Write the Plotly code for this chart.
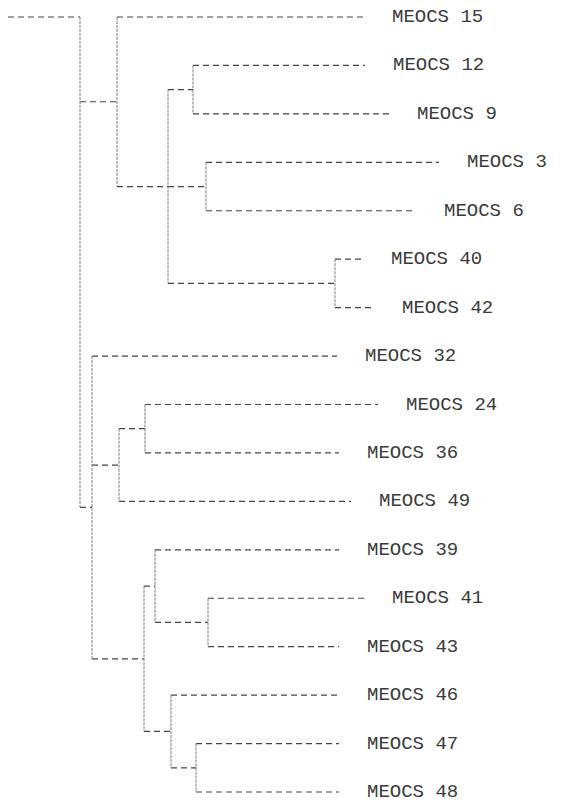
import plotly.graph_objects as go

# ---- data ----
leaf_labels = ["MEOCS 15", "MEOCS 12", "MEOCS 9", "MEOCS 3", "MEOCS 6",
               "MEOCS 40", "MEOCS 42", "MEOCS 32", "MEOCS 24", "MEOCS 36",
               "MEOCS 49", "MEOCS 39", "MEOCS 41", "MEOCS 43", "MEOCS 46",
               "MEOCS 47", "MEOCS 48"]
# right end of each leaf branch (distance units)
leaf_end = [364, 365, 389, 439, 416, 363, 374, 337, 378, 339,
            351, 339, 364, 339, 339, 339, 339]

# internal nodes: name, position (distance units), children
node_names = ["A", "B", "C", "D", "E", "F", "G", "H", "I", "J", "K", "L", "M", "ROOT"]
node_x = [193, 206, 335, 168, 117, 145, 119, 208, 155, 196, 171, 144, 92, 80]
node_children = [
    ["MEOCS 12", "MEOCS 9"],
    ["MEOCS 3", "MEOCS 6"],
    ["MEOCS 40", "MEOCS 42"],
    ["A", "B", "C"],
    ["MEOCS 15", "D"],
    ["MEOCS 24", "MEOCS 36"],
    ["F", "MEOCS 49"],
    ["MEOCS 41", "MEOCS 43"],
    ["MEOCS 39", "H"],
    ["MEOCS 47", "MEOCS 48"],
    ["MEOCS 46", "J"],
    ["I", "K"],
    ["MEOCS 32", "G", "L"],
    ["E", "M"],
]
root_stem_start = 8
root_stem_row = 0      # the printout draws the root stem on the first row

# ---- build geometry from the tree ----
node_pos = dict(zip(node_names, node_x))
node_kids = dict(zip(node_names, node_children))
leaf_idx = {lab: i for i, lab in enumerate(leaf_labels)}
parent = {}
for n, kids in node_kids.items():
    for k in kids:
        parent[k] = n

ycache = {}
def ypos(name):
    if name in leaf_idx:
        return float(leaf_idx[name])
    if name not in ycache:
        if name not in parent:
            ycache[name] = float(root_stem_row)
        else:
            kids = node_kids[name]
            ycache[name] = (ypos(kids[0]) + ypos(kids[-1])) / 2.0
    return ycache[name]

hx, hy, vx, vy = [], [], [], []
for lab, end in zip(leaf_labels, leaf_end):
    y = ypos(lab)
    hx += [node_pos[parent[lab]], end, None]
    hy += [y, y, None]
for n in node_names:
    y = ypos(n)
    start = node_pos[parent[n]] if n in parent else root_stem_start
    hx += [start, node_pos[n], None]
    hy += [y, y, None]
    ys = [ypos(k) for k in node_kids[n]] + [y]
    vx += [node_pos[n], node_pos[n], None]
    vy += [min(ys), max(ys), None]

fig = go.Figure()
fig.add_trace(go.Scatter(x=hx, y=hy, mode="lines", hoverinfo="skip",
                         line=dict(color="#444444", width=1.2, dash="6px,4px")))
fig.add_trace(go.Scatter(x=vx, y=vy, mode="lines", hoverinfo="skip",
                         line=dict(color="#7a7a7a", width=1, dash="3px,1px")))

for lab, end in zip(leaf_labels, leaf_end):
    fig.add_annotation(x=end, y=ypos(lab), text=lab, showarrow=False,
                       xanchor="left", yanchor="middle", xshift=26,
                       font=dict(family="Courier New, Liberation Mono, monospace",
                                 size=19, color="#3a3a3a"))

n = len(leaf_labels)
fig.update_layout(
    width=561, height=803,
    margin=dict(l=0, r=0, t=0, b=0),
    paper_bgcolor="white", plot_bgcolor="white",
    showlegend=False,
    xaxis=dict(range=[0, 561], visible=False, fixedrange=True),
    yaxis=dict(range=[n - 1 + 0.227, -0.351], visible=False, fixedrange=True),
)
fig.write_html("out.html", config={"displayModeBar": False},
               post_script="document.body.style.margin='0';document.body.style.overflow='hidden';")
